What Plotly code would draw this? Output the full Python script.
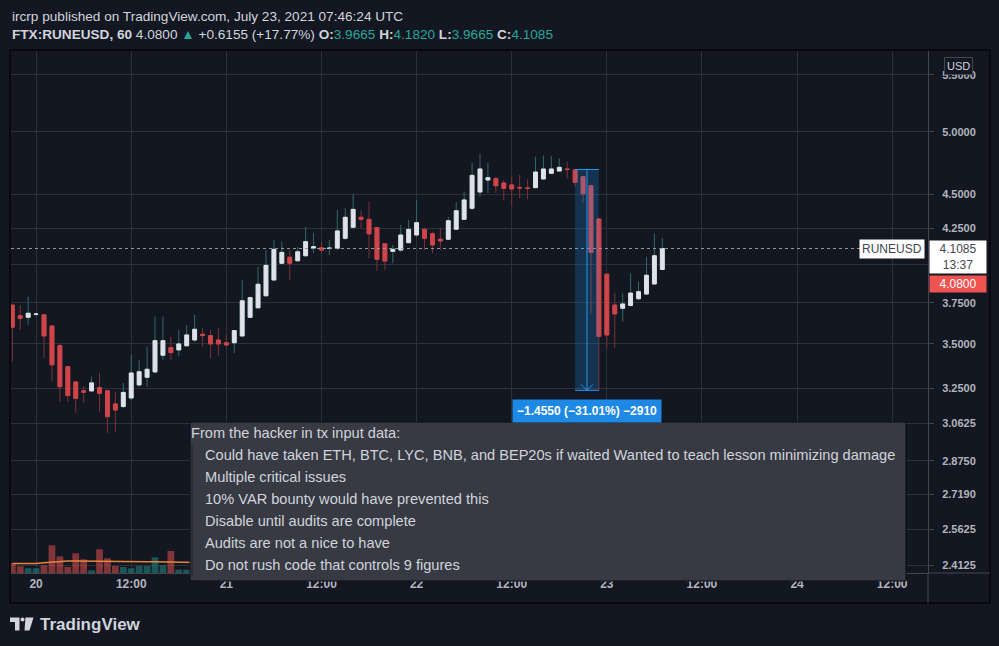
import math
import pandas as pd
import plotly.graph_objects as go

# hourly candles, FTX:RUNEUSD 60
times = pd.date_range("2021-07-19 21:00", periods=83, freq="h")

opens = [3.736, 3.670, 3.660, 3.678, 3.675, 3.607, 3.490, 3.369, 3.283, 3.235,
         3.234, 3.252, 3.235, 3.164, 3.150, 3.196, 3.267, 3.309, 3.339, 3.434,
         3.478, 3.465, 3.489, 3.523, 3.557, 3.549, 3.523, 3.507, 3.507, 3.547,
         3.660, 3.719, 3.795, 3.897, 4.008, 4.049, 4.025, 4.059, 4.112, 4.114,
         4.109, 4.110, 4.180, 4.258, 4.330, 4.315, 4.256, 4.142, 4.089, 4.098,
         4.149, 4.203, 4.243, 4.211, 4.173, 4.173, 4.244, 4.315, 4.396, 4.518,
         4.610, 4.620, 4.587, 4.572, 4.553, 4.549, 4.551, 4.618, 4.662, 4.680,
         4.696, 4.688, 4.636, 4.566, 4.318, 3.935, 3.736, 3.716, 3.734, 3.776,
         3.806, 3.871, 3.9665]
highs = [3.745, 3.736, 3.789, 3.690, 3.680, 3.610, 3.500, 3.372, 3.290, 3.261,
         3.313, 3.333, 3.240, 3.230, 3.278, 3.436, 3.407, 3.484, 3.664, 3.664,
         3.543, 3.583, 3.613, 3.675, 3.593, 3.583, 3.593, 3.553, 3.583, 3.897,
         3.790, 3.985, 4.098, 4.168, 4.156, 4.098, 4.121, 4.262, 4.216, 4.156,
         4.168, 4.383, 4.396, 4.505, 4.383, 4.444, 4.260, 4.145, 4.133, 4.274,
         4.310, 4.458, 4.256, 4.226, 4.251, 4.334, 4.444, 4.521, 4.744, 4.817,
         4.744, 4.636, 4.610, 4.636, 4.649, 4.615, 4.794, 4.804, 4.799, 4.781,
         4.753, 4.692, 4.640, 4.570, 4.320, 3.940, 3.814, 3.810, 3.941, 3.886,
         4.052, 4.213, 4.1820]
lows = [3.397, 3.585, 3.614, 3.665, 3.417, 3.285, 3.176, 3.176, 3.118, 3.170,
        3.228, 3.123, 3.014, 3.020, 3.143, 3.185, 3.257, 3.257, 3.332, 3.407,
        3.407, 3.427, 3.484, 3.513, 3.484, 3.417, 3.430, 3.484, 3.446, 3.543,
        3.655, 3.715, 3.789, 3.893, 4.003, 3.897, 4.018, 4.052, 4.077, 4.075,
        4.063, 4.098, 4.168, 4.251, 4.251, 4.041, 3.958, 3.963, 4.008, 4.086,
        4.145, 4.191, 4.098, 4.075, 4.098, 4.168, 4.239, 4.310, 4.383, 4.482,
        4.510, 4.510, 4.458, 4.412, 4.471, 4.463, 4.547, 4.616, 4.657, 4.675,
        4.623, 4.559, 4.437, 3.685, 3.237, 3.475, 3.475, 3.634, 3.725, 3.768,
        3.801, 3.865, 3.9665]
closes = [3.600, 3.654, 3.685, 3.680, 3.547, 3.379, 3.257, 3.209, 3.194, 3.227,
          3.278, 3.221, 3.097, 3.132, 3.226, 3.333, 3.340, 3.354, 3.519, 3.519,
          3.449, 3.500, 3.553, 3.587, 3.549, 3.500, 3.500, 3.494, 3.579, 3.763,
          3.783, 3.869, 3.994, 4.103, 4.082, 4.008, 4.086, 4.156, 4.121, 4.098,
          4.111, 4.232, 4.330, 4.388, 4.315, 4.211, 4.035, 4.023, 4.103, 4.203,
          4.243, 4.291, 4.180, 4.133, 4.161, 4.305, 4.378, 4.458, 4.646, 4.696,
          4.628, 4.566, 4.546, 4.541, 4.549, 4.545, 4.672, 4.696, 4.696, 4.709,
          4.692, 4.592, 4.505, 4.082, 3.545, 3.553, 3.681, 3.743, 3.812, 3.821,
          3.928, 4.059, 4.1085]
volumes = [10, 6.7, 4.7, 4.7, 7.7, 27.7, 16.7, 6, 19.7, 13.7,
           2.7, 23.7, 14.7, 7, 6, 4.7, 7, 7, 15.7, 7.7,
           22, 3.4, 3.4, 6, 4, 5, 4, 3, 5, 14,
           8, 10, 12, 11, 6, 5, 4, 7, 4, 3,
           3, 8, 9, 10, 5, 9, 12, 8, 4, 5,
           5, 7, 5, 5, 3, 6, 7, 8, 14, 12,
           6, 5, 4, 5, 3, 3, 6, 5, 3, 3,
           3, 6, 9, 28, 40, 30, 14, 9, 10, 6,
           9, 11, 7]
vol_ma = [9.4, 9.4, 9.5, 9.6, 10.2, 11.0, 11.6, 11.9, 12.0, 12.0,
          12.0, 12.0, 11.9, 11.8, 11.6, 11.5, 11.4, 11.3, 11.2, 11.1,
          11.0, 11.0, 11.0, 10.8, 10.5, 10.2, 9.8, 9.5, 9.3, 9.4,
          9.3, 9.1, 8.9, 8.8, 8.6, 8.4, 8.2, 7.9, 7.6, 7.3,
          7.2, 7.0, 6.9, 7.0, 7.1, 7.3, 7.2, 7.3, 7.4, 7.2,
          7.0, 6.9, 7.0, 7.1, 7.0, 6.9, 7.0, 7.3, 7.5, 7.4,
          7.2, 7.0, 6.9, 6.8, 6.8, 6.7, 6.5, 6.4, 6.3, 6.3,
          6.4, 7.4, 9.0, 10.3, 10.8, 11.0, 11.2, 11.3, 11.5, 11.6,
          11.8, 11.9, 12.0]

price_ticks = [2.4125, 2.5625, 2.719, 2.875, 3.0625, 3.25, 3.5, 3.75, 4.0, 4.25, 4.5, 5.0, 5.5]
price_labels = ["2.4125", "2.5625", "2.7190", "2.8750", "3.0625", "3.2500", "3.5000",
                "3.7500", "", "4.2500", "4.5000", "5.0000", "5.5000"]
time_ticks = ["2021-07-20 00:00", "2021-07-20 12:00", "2021-07-21 00:00", "2021-07-21 12:00",
              "2021-07-22 00:00", "2021-07-22 12:00", "2021-07-23 00:00", "2021-07-23 12:00",
              "2021-07-24 00:00", "2021-07-24 12:00"]
time_labels = ["20", "12:00", "21", "12:00", "22", "12:00", "23", "12:00", "24", "12:00"]

mark_price = 4.0800
change = 0.6155
change_pct = 17.77
countdown = "13:37"
measure_start, measure_end = 71, 74
measure_high, measure_low = 4.692, 3.237
measure_bars = 2910

note_title = "From the hacker in tx input data:"
note_lines = [
    "Could have taken ETH, BTC, LYC, BNB, and BEP20s if waited Wanted to teach lesson minimizing damage",
    "Multiple critical issues",
    "10% VAR bounty would have prevented this",
    "Disable until audits are complete",
    "Audits are not a nice to have",
    "Do not rush code that controls 9 figures",
]

BG = "#131722"
GRID = "#2c303b"
TXT = "#d1d4dc"
AX = "#b2b5be"
UP = "#dfe2e8"
DOWN = "#cf4549"
TEAL = "#26a69a"
FONT = "Liberation Sans"

W, H = 999, 646
L, R, T, B = 11, 71, 51, 73
PW, PH = W - L - R, H - T - B


def px(x):
    return (x - L) / PW


def py(y):
    return (H - B - y) / PH


fig = go.Figure()

vol_colors = ["rgba(38,166,154,0.45)" if c >= o else "rgba(239,83,80,0.5)"
              for o, c in zip(opens, closes)]
fig.add_trace(go.Bar(x=times, y=volumes, marker=dict(color=vol_colors, line_width=0),
                     yaxis="y2", hoverinfo="skip", showlegend=False))
fig.add_trace(go.Scatter(x=times, y=vol_ma, yaxis="y2", mode="lines",
                         line=dict(color="#e8843c", width=1.5), hoverinfo="skip", showlegend=False))

# wicks
fig.add_trace(go.Candlestick(
    x=times, open=opens, high=highs, low=lows, close=closes,
    increasing=dict(line=dict(color="#2f6b66", width=1), fillcolor="rgba(0,0,0,0)"),
    decreasing=dict(line=dict(color="#7c3236", width=1), fillcolor="rgba(0,0,0,0)"),
    hoverinfo="skip", showlegend=False))
# bodies
body_hi = [max(o, c) for o, c in zip(opens, closes)]
body_lo = [min(o, c) for o, c in zip(opens, closes)]
fig.add_trace(go.Candlestick(
    x=times, open=opens, high=body_hi, low=body_lo, close=closes,
    increasing=dict(line=dict(color=UP, width=1), fillcolor=UP),
    decreasing=dict(line=dict(color=DOWN, width=1), fillcolor=DOWN),
    hoverinfo="skip", showlegend=False))

last = closes[-1]
shapes = []
annotations = []

# last price dotted line
shapes.append(dict(type="line", xref="paper", yref="y", x0=0, x1=px(860), y0=last, y1=last,
                   line=dict(color="#9598a1", width=1, dash="dot"), layer="above"))

# measure tool
t0, t1 = times[measure_start], times[measure_end]
tmid = t0 + (t1 - t0) / 2
blue = "#2196f3"
shapes.append(dict(type="rect", xref="x", yref="y", x0=t0, x1=t1, y0=measure_low, y1=measure_high,
                   fillcolor="rgba(33,150,243,0.22)", line=dict(width=0), layer="above"))
for yv in (measure_low, measure_high):
    shapes.append(dict(type="line", xref="x", yref="y", x0=t0, x1=t1, y0=yv, y1=yv,
                       line=dict(color=blue, width=1), layer="above"))
shapes.append(dict(type="line", xref="x", yref="y", x0=tmid, x1=tmid, y0=measure_low, y1=measure_high,
                   line=dict(color=blue, width=1), layer="above"))
shapes.append(dict(type="path", xref="x", yref="y", xsizemode="pixel", ysizemode="pixel",
                   xanchor=tmid, yanchor=measure_low, path="M-6,6 L0,0 L6,6",
                   line=dict(color=blue, width=1), layer="above"))
diff = measure_high - measure_low
annotations.append(dict(
    x=tmid, y=math.log10(measure_low), xref="x", yref="y", yshift=-21, showarrow=False,
    text="<b>\u2212%.4f (\u2212%.2f%%) \u2212%d</b>" % (diff, diff / measure_high * 100, measure_bars),
    font=dict(color="white", size=12, family=FONT), bgcolor="#1e88e5", borderpad=4))

# note box
shapes.append(dict(type="rect", xref="paper", yref="paper", x0=px(190), x1=px(906), y0=py(581), y1=py(422),
                   fillcolor="#373a43", line=dict(color="#0b0d12", width=1), layer="above"))
shapes.append(dict(type="rect", xref="paper", yref="paper", x0=px(190.5), x1=px(193), y0=py(577), y1=py(445),
                   fillcolor="#2a2d35", line=dict(width=0), layer="above"))
annotations.append(dict(x=px(189), y=py(433), xref="paper", yref="paper", xanchor="left", yanchor="middle",
                        text=note_title, showarrow=False, font=dict(color=TXT, size=14.6, family=FONT)))
for i, line in enumerate(note_lines):
    annotations.append(dict(x=px(203), y=py(455 + i * 22), xref="paper", yref="paper",
                            xanchor="left", yanchor="middle", text=line, showarrow=False,
                            font=dict(color=TXT, size=14.6, family=FONT)))

# price axis labels
annotations.append(dict(x=px(925), y=math.log10(last), xref="paper", yref="y", xanchor="right",
                        yanchor="middle", text="RUNEUSD", showarrow=False, bgcolor="white",
                        font=dict(color="#434651", size=12, family=FONT), borderpad=2))
annotations.append(dict(x=px(929), y=math.log10(last), xref="paper", yref="y", xanchor="left",
                        yanchor="top", yshift=9, text="%.4f<br>%s" % (last, countdown), align="center",
                        showarrow=False, bgcolor="white", width=54,
                        font=dict(color="#434651", size=12, family=FONT), borderpad=1))
annotations.append(dict(x=px(929), y=math.log10(last), xref="paper", yref="y", xanchor="left",
                        yanchor="middle", yshift=-35, text="%.4f" % mark_price, align="center",
                        showarrow=False, bgcolor="#ef5350", width=54,
                        font=dict(color="white", size=12, family=FONT), borderpad=1))
annotations.append(dict(x=px(958), y=py(66), xref="paper", yref="paper", xanchor="center",
                        yanchor="middle", text="USD", showarrow=False,
                        bgcolor=BG, bordercolor="#434651", borderwidth=1, borderpad=2,
                        font=dict(color=TXT, size=11, family=FONT)))

# header
annotations.append(dict(x=px(10), y=py(16), xref="paper", yref="paper", xanchor="left", yanchor="middle",
                        text="ircrp published on TradingView.com, July 23, 2021 07:46:24 UTC",
                        showarrow=False, font=dict(color=TXT, size=13.6, family=FONT)))
ohlc = "".join("<b>%s:</b><span style='color:%s'>%.4f</span> " % (k, TEAL, v)
               for k, v in zip("OHLC", [opens[-1], highs[-1], lows[-1], closes[-1]]))
annotations.append(dict(x=px(10), y=py(35), xref="paper", yref="paper", xanchor="left", yanchor="middle",
                        text="<b>FTX:RUNEUSD, 60</b> %.4f <span style='color:%s'>\u25b2</span> +%.4f (+%.2f%%) %s"
                        % (mark_price, TEAL, change, change_pct, ohlc),
                        showarrow=False, font=dict(color=TXT, size=13.6, family=FONT)))

# frame and separators
shapes.append(dict(type="rect", xref="paper", yref="paper", x0=px(10), x1=px(990), y0=py(603), y1=py(50),
                   line=dict(color="#05060a", width=1.5), fillcolor="rgba(0,0,0,0)", layer="above"))
shapes.append(dict(type="line", xref="paper", yref="paper", x0=px(928), x1=px(928), y0=py(603), y1=py(573),
                   line=dict(color="#434651", width=1), layer="above"))
shapes.append(dict(type="line", xref="paper", yref="paper", x0=px(928), x1=px(990), y0=py(573), y1=py(573),
                   line=dict(color="#434651", width=1), layer="above"))


# logo
def path_of(points):
    return "M" + " L".join("%.5f,%.5f" % (px(a), py(b)) for a, b in points) + " Z"


logo_col = "#d1d4dc"
shapes.append(dict(type="path", xref="paper", yref="paper", fillcolor=logo_col, line=dict(width=0),
                   path=path_of([(10, 617.5), (19.5, 617.5), (19.5, 630.5), (15, 630.5), (15, 622), (10, 622)])))
shapes.append(dict(type="circle", xref="paper", yref="paper", fillcolor=logo_col, line=dict(width=0),
                   x0=px(20.5), x1=px(24.5), y0=py(621.5), y1=py(617.5)))
shapes.append(dict(type="path", xref="paper", yref="paper", fillcolor=logo_col, line=dict(width=0),
                   path=path_of([(25.5, 617.5), (33.5, 617.5), (29.5, 630.5), (24.5, 630.5)])))
annotations.append(dict(x=px(38), y=py(624), xref="paper", yref="paper", xanchor="left", yanchor="middle",
                        text="<b>TradingView</b>", showarrow=False,
                        font=dict(color=logo_col, size=17, family=FONT)))

fig.update_layout(
    width=W, height=H, margin=dict(l=L, r=R, t=T, b=B),
    paper_bgcolor=BG, plot_bgcolor=BG, showlegend=False, hovermode=False,
    font=dict(family=FONT, color=AX),
    xaxis=dict(type="date", range=["2021-07-19 20:50", "2021-07-24 16:31"],
               tickvals=time_ticks, ticktext=time_labels, showgrid=True, gridcolor=GRID,
               rangeslider=dict(visible=False), showline=True, linecolor="#434651",
               ticks="", tickfont=dict(size=12, color=AX, family=FONT, weight="bold"),
               fixedrange=True),
    yaxis=dict(type="log", side="right", range=[0.37685, 0.75786],
               tickvals=price_ticks, ticktext=price_labels, showgrid=True, gridcolor=GRID,
               ticks="outside", ticklen=5, tickcolor="#434651", showline=True, linecolor="#434651",
               ticklabelstandoff=6,
               tickfont=dict(size=11, color=AX, family=FONT, weight="bold"), zeroline=False),
    yaxis2=dict(overlaying="y", range=[0, PH], visible=False, fixedrange=True),
    bargap=0.15,
    shapes=shapes,
    annotations=annotations,
)

fig.write_html("out.html", config={"displayModeBar": False},
               post_script="document.body.style.margin='0';document.body.style.overflow='hidden';")
